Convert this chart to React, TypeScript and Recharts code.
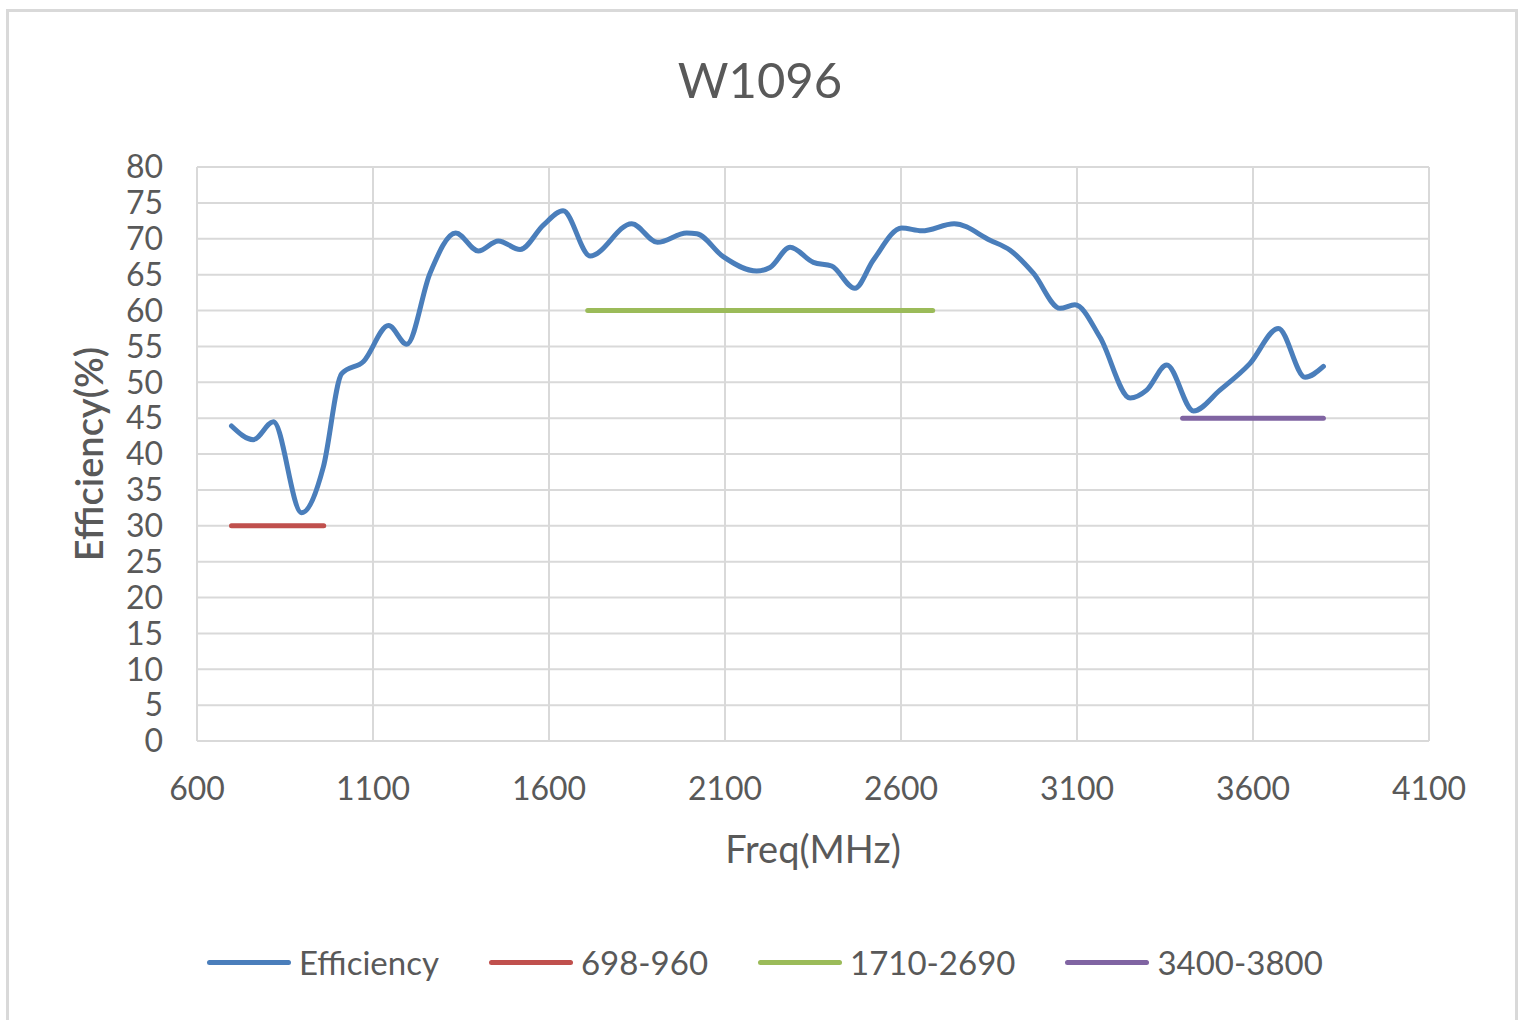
import { LineChart, Line, XAxis, YAxis, CartesianGrid } from 'recharts'

const effFreq = [698, 760, 817, 897, 959, 1011, 1073, 1144, 1196, 1262, 1335, 1399, 1456, 1518, 1584, 1640, 1717, 1835, 1908, 1991, 2020, 2095, 2190, 2228, 2285, 2351, 2403, 2469, 2521, 2602, 2659, 2751, 2853, 2910, 2976, 3052, 3094, 3165, 3251, 3298, 3355, 3431, 3506, 3591, 3672, 3748, 3800]
const effVal = [43.9, 42.0, 44.5, 31.8, 38.2, 51.2, 52.9, 57.9, 55.3, 65.2, 70.8, 68.3, 69.7, 68.5, 71.9, 73.9, 67.6, 72.1, 69.5, 70.8, 70.7, 67.5, 65.5, 66.0, 68.8, 66.7, 66.2, 63.1, 67.0, 71.5, 71.1, 72.1, 69.8, 68.4, 65.2, 60.3, 60.8, 56.3, 47.8, 48.9, 52.4, 46.0, 48.9, 52.6, 57.5, 50.7, 52.2]

const lowBandFreq = [698, 960]
const lowBandVal = [30, 30]
const midBandFreq = [1710, 2690]
const midBandVal = [60, 60]
const highBandFreq = [3400, 3800]
const highBandVal = [45, 45]

const xTicks = [600, 1100, 1600, 2100, 2600, 3100, 3600, 4100]
const yTicks = [0, 5, 10, 15, 20, 25, 30, 35, 40, 45, 50, 55, 60, 65, 70, 75, 80]

const toRows = (xs: number[], ys: number[]) => xs.map((f, i) => ({ freq: f, value: ys[i] }))

const series = [
  { name: 'Efficiency', color: '#4a7ebb', data: toRows(effFreq, effVal) },
  { name: '698-960', color: '#c0504d', data: toRows(lowBandFreq, lowBandVal) },
  { name: '1710-2690', color: '#9bbb59', data: toRows(midBandFreq, midBandVal) },
  { name: '3400-3800', color: '#8064a2', data: toRows(highBandFreq, highBandVal) },
]

const font = 'Lato, "Open Sans", sans-serif'
const textColor = '#595959'

export default function App() {
  return (
    <div style={{ position: 'absolute', left: 0, top: 0, width: 1518, height: 1020, background: '#fff', fontFamily: font, overflow: 'hidden' }}>
      <div style={{ position: 'absolute', left: 6, top: 9, width: 1506, height: 1020, border: '3px solid #d9d9d9' }} />
      <div style={{ position: 'absolute', left: 0, width: 1520, top: 50, textAlign: 'center', fontSize: 49, color: textColor }}>W1096</div>
      <LineChart width={1518} height={1020} margin={{ top: 167, right: 89, bottom: 149, left: 97 }}>
        <CartesianGrid stroke="#d9d9d9" strokeWidth={2} vertical horizontal />
        <XAxis
          type="number"
          dataKey="freq"
          domain={[600, 4100]}
          ticks={xTicks}
          allowDataOverflow
          height={130}
          axisLine={{ stroke: '#d9d9d9', strokeWidth: 2 }}
          tickLine={false}
          tickSize={0}
          tickMargin={36}
          tick={{ fill: textColor, fontSize: 32, fontFamily: font }}
          label={{ value: 'Freq(MHz)', position: 'insideBottom', offset: 0, dy: -8, fill: textColor, fontSize: 38, fontFamily: font }}
        />
        <YAxis
          type="number"
          domain={[0, 80]}
          ticks={yTicks}
          interval={0}
          width={100}
          axisLine={{ stroke: '#d9d9d9', strokeWidth: 2 }}
          tickLine={false}
          tickSize={0}
          tickMargin={34}
          tick={{ fill: textColor, fontSize: 32, fontFamily: font }}
          label={{
            content: (props: any) => {
              const vb = props.viewBox
              const cy = vb.y + vb.height / 2
              return (
                <text x={88} y={cy} transform={`rotate(-90, 88, ${cy})`} textAnchor="middle" dominantBaseline="central" fill={textColor} fontSize={38} fontWeight={600} fontFamily={font}>
                  Efficiency(%)
                </text>
              )
            },
          }}
        />
        {series.map((s) => (
          <Line
            key={s.name}
            data={s.data}
            dataKey="value"
            name={s.name}
            type="monotone"
            stroke={s.color}
            strokeWidth={5}
            strokeLinecap="round"
            dot={false}
            isAnimationActive={false}
          />
        ))}
      </LineChart>
      <div style={{ position: 'absolute', top: 942, left: 207, display: 'flex', alignItems: 'center', fontSize: 33, color: textColor }}>
        {series.map((s) => (
          <div key={s.name} style={{ display: 'flex', alignItems: 'center', marginRight: 50 }}>
            <span style={{ display: 'inline-block', width: 84, height: 5, borderRadius: 3, background: s.color, marginRight: 8 }} />
            <span>{s.name}</span>
          </div>
        ))}
      </div>
    </div>
  )
}
